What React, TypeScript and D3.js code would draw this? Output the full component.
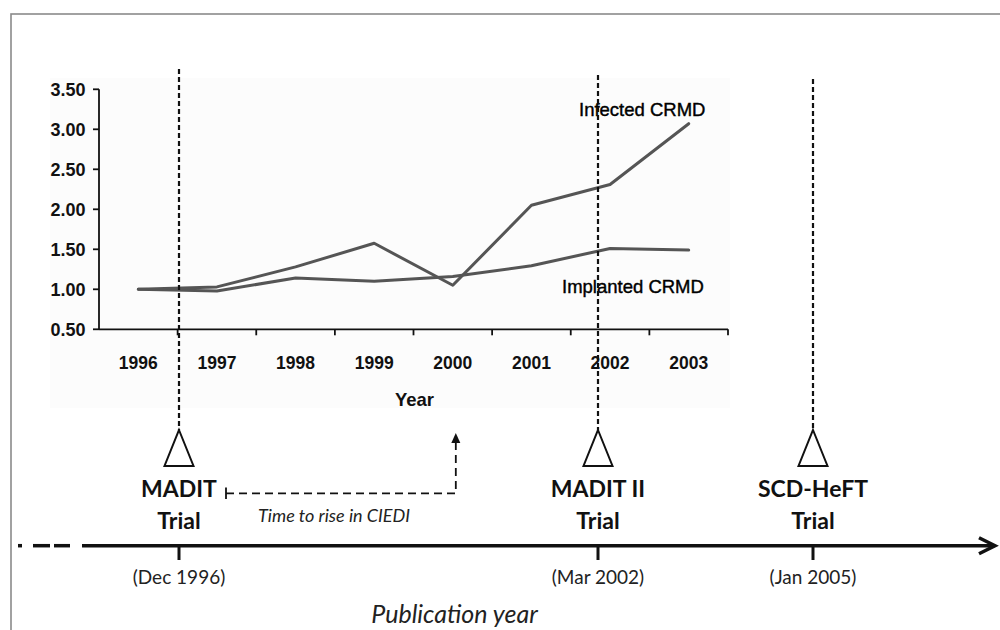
import React from "react";
import * as d3 from "d3";

const years = ["1996", "1997", "1998", "1999", "2000", "2001", "2002", "2003"];
const infected = [1.0, 1.03, 1.28, 1.575, 1.05, 2.05, 2.31, 3.07];
const implanted = [1.0, 0.98, 1.14, 1.1, 1.16, 1.295, 1.51, 1.49];
const yTicks = [0.5, 1.0, 1.5, 2.0, 2.5, 3.0, 3.5];

const trialNames = ["MADIT", "MADIT II", "SCD-HeFT"];
const trialDates = [new Date(1996, 11, 15), new Date(2002, 2, 15), new Date(2005, 0, 15)];
const trialDateLabels = ["(Dec 1996)", "(Mar 2002)", "(Jan 2005)"];
const trialLineTops = [69, 75, 79];

const W = 1000;
const H = 630;

export default function App() {
  const x = d3.scaleBand<string>().domain(years).range([99, 728]).paddingInner(0).paddingOuter(0);
  const y = d3.scaleLinear().domain([0.5, 3.5]).range([329.3, 89.3]);
  const t = d3.scaleTime().domain(trialDates).range([179, 598, 813]);
  const cx = (yr: string) => (x(yr) as number) + x.bandwidth() / 2;

  const line = d3
    .line<number>()
    .x((_, i) => cx(years[i]))
    .y((d) => y(d));

  const axisY = y(0.5);
  const tlY = 545.7;
  const triTop = 430;
  const triBottom = 466;
  const triHalf = 14.5;
  const chartFont = "'Liberation Sans', Arial, sans-serif";
  const labFont = "Lato, 'Open Sans', sans-serif";
  const arrowX = cx("2000") + 3;

  return (
    <svg
      width={W}
      height={H}
      style={{ position: "absolute", left: 0, top: 0, background: "#fff" }}
    >
      <rect x={0} y={0} width={W} height={H} fill="#fff" />
      {/* frame */}
      <rect x={11} y={14} width={1000} height={700} fill="none" stroke="#8a8a8a" strokeWidth={1.6} />
      {/* subtle chart background */}
      <rect x={50} y={78} width={680} height={330} fill="#fcfcfc" />

      {/* y axis */}
      <line x1={99} x2={99} y1={y(3.5)} y2={axisY} stroke="#111" strokeWidth={1.8} />
      {yTicks.map((v) => (
        <g key={v}>
          <line x1={93} x2={99} y1={y(v)} y2={y(v)} stroke="#111" strokeWidth={1.8} />
          <text
            x={85.5}
            y={y(v)}
            dy="0.36em"
            textAnchor="end"
            fontFamily={chartFont}
            fontWeight="bold"
            fontSize={18}
            fill="#111"
          >
            {v.toFixed(2)}
          </text>
        </g>
      ))}

      {/* x axis */}
      <line x1={99} x2={728} y1={axisY} y2={axisY} stroke="#111" strokeWidth={1.8} />
      {years.map((yr) => (
        <line
          key={"t" + yr}
          x1={(x(yr) as number) + x.bandwidth()}
          x2={(x(yr) as number) + x.bandwidth()}
          y1={axisY}
          y2={axisY + 6}
          stroke="#111"
          strokeWidth={1.8}
        />
      ))}
      {years.map((yr) => (
        <text
          key={"l" + yr}
          x={cx(yr)}
          y={369}
          textAnchor="middle"
          fontFamily={chartFont}
          fontWeight="bold"
          fontSize={17.5}
          fill="#111"
        >
          {yr}
        </text>
      ))}
      <text x={414.5} y={406} textAnchor="middle" fontFamily={chartFont} fontWeight="bold" fontSize={18.5} fill="#111">
        Year
      </text>

      {/* series */}
      <path d={line(implanted) || ""} fill="none" stroke="#555" strokeWidth={3} strokeLinejoin="round" strokeLinecap="round" />
      <path d={line(infected) || ""} fill="none" stroke="#555" strokeWidth={3} strokeLinejoin="round" strokeLinecap="round" />

      <text x={579} y={116} fontFamily={chartFont} fontSize={18.5} fill="#000" stroke="#000" strokeWidth={0.4}>
        Infected CRMD
      </text>
      <text x={562} y={292.5} fontFamily={chartFont} fontSize={18.5} fill="#000" stroke="#000" strokeWidth={0.4}>
        Implanted CRMD
      </text>

      {/* trial dashed verticals and triangles */}
      {trialNames.map((n, i) => {
        const px = t(trialDates[i]);
        return (
          <g key={n}>
            <line
              x1={px}
              x2={px}
              y1={trialLineTops[i]}
              y2={triTop}
              stroke="#111"
              strokeWidth={2.2}
              strokeDasharray="5,3"
            />
            <path
              d={`M${px},${triTop} L${px + triHalf},${triBottom} L${px - triHalf},${triBottom} Z`}
              fill="#fff"
              stroke="#111"
              strokeWidth={2}
              strokeLinejoin="miter"
            />
            <text x={px} y={497} textAnchor="middle" fontFamily={labFont} fontWeight="bold" fontSize={23} fill="#111">
              {n}
            </text>
            <text x={px} y={529} textAnchor="middle" fontFamily={labFont} fontWeight="bold" fontSize={23} fill="#111">
              Trial
            </text>
            <line x1={px} x2={px} y1={tlY} y2={560} stroke="#111" strokeWidth={3} />
            <text x={px} y={584} textAnchor="middle" fontFamily={labFont} fontSize={19} fill="#222">
              {trialDateLabels[i]}
            </text>
          </g>
        );
      })}

      {/* time to rise bracket */}
      <line x1={226} x2={226} y1={487.5} y2={499} stroke="#111" strokeWidth={1.8} />
      <path
        d={`M226,${493.3} L${arrowX},${493.3} L${arrowX},${443}`}
        fill="none"
        stroke="#111"
        strokeWidth={1.8}
        strokeDasharray="8,5"
      />
      <path d={`M${arrowX},433 L${arrowX + 4.5},443 L${arrowX - 4.5},443 Z`} fill="#111" />
      <text x={258} y={522} fontFamily={labFont} fontStyle="italic" fontSize={18} fill="#222">
        Time to rise in CIEDI
      </text>

      {/* publication timeline */}
      <line x1={18} x2={22} y1={tlY} y2={tlY} stroke="#111" strokeWidth={3.5} />
      <line x1={33} x2={50} y1={tlY} y2={tlY} stroke="#111" strokeWidth={3.5} />
      <line x1={54} x2={70} y1={tlY} y2={tlY} stroke="#111" strokeWidth={3.5} />
      <line x1={82} x2={994} y1={tlY} y2={tlY} stroke="#111" strokeWidth={3.5} />
      <path
        d={`M979,${tlY - 8} L995,${tlY} L979,${tlY + 8}`}
        fill="none"
        stroke="#111"
        strokeWidth={3.5}
        strokeLinejoin="miter"
      />
      <text x={454.5} y={623} textAnchor="middle" fontFamily={labFont} fontStyle="italic" fontSize={25} fill="#222">
        Publication year
      </text>
    </svg>
  );
}
